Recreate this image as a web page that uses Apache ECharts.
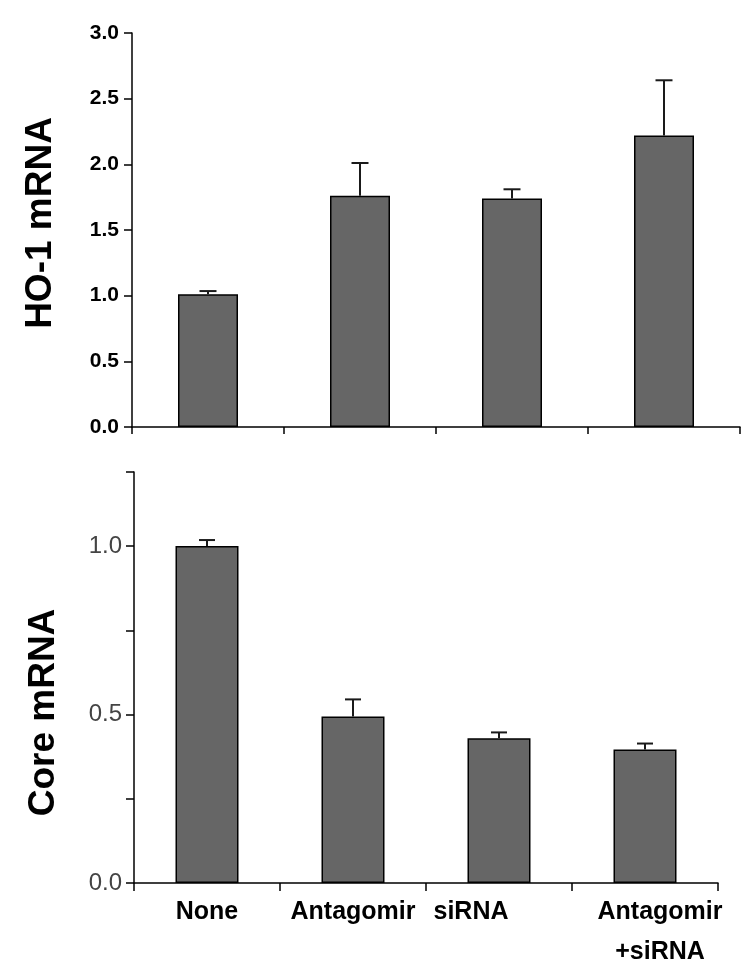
<!DOCTYPE html>
<html>
<head>
<meta charset="utf-8">
<script src="https://cdn.jsdelivr.net/npm/echarts@6/dist/echarts.min.js"></script>
<style>html,body{margin:0;padding:0;background:#fff}#c{width:746px;height:979px}</style>
</head>
<body>
<div id="c"></div>
<script>
var categories = ['None', 'Antagomir', 'siRNA', 'Antagomir\n+siRNA'];
var ho1Mean = [1.01, 1.76, 1.74, 2.22];
var ho1Err = [0.025, 0.25, 0.07, 0.42];
var coreMean = [1.0, 0.494, 0.43, 0.396];
var coreErr = [0.018, 0.051, 0.017, 0.018];
var topTicks = [0, 0.5, 1.0, 1.5, 2.0, 2.5, 3.0];
var coreTicks = [0, 0.25, 0.5, 0.75, 1.0, 1.22];
var coreTickLabels = [0, 0.5, 1.0];

var FONT = 'Arial, "Liberation Sans", Helvetica, sans-serif';
var chart = echarts.init(document.getElementById('c'), null, {renderer: 'canvas'});

function errRender(capHalf) {
  return function (params, api) {
    var i = api.value(0), m = api.value(1), e = api.value(2);
    var p0 = api.coord([i, m]);
    var p1 = api.coord([i, m + e]);
    var st = {stroke: '#1a1a1a', lineWidth: 2};
    return {
      type: 'group',
      children: [
        {type: 'line', shape: {x1: p0[0], y1: p0[1], x2: p1[0], y2: p1[1]}, style: st},
        {type: 'line', shape: {x1: p1[0] - capHalf, y1: p1[1], x2: p1[0] + capHalf, y2: p1[1]}, style: st}
      ]
    };
  };
}

var axisLineStyle = {show: true, lineStyle: {color: '#000', width: 1.5}};

var option = {
  animation: false,
  backgroundColor: '#fff',
  grid: [
    {left: 132, right: 6, top: 33, bottom: 552, outerBoundsMode: 'none', containLabel: false},
    {left: 134, right: 28, top: 472, bottom: 96, outerBoundsMode: 'none', containLabel: false}
  ],
  xAxis: [
    {
      type: 'category', gridIndex: 0, data: categories,
      axisLine: axisLineStyle,
      axisTick: {show: true, alignWithLabel: false, length: 7, lineStyle: {color: '#000', width: 1.5}},
      axisLabel: {show: false},
      splitLine: {show: false}
    },
    {
      type: 'category', gridIndex: 1,
      data: [
        {value: categories[0]},
        {value: categories[1]},
        {value: categories[2], textStyle: {padding: [0, 56, 0, 0]}},
        {value: categories[3], textStyle: {padding: [0, 0, 0, 30]}}
      ],
      axisLine: axisLineStyle,
      axisTick: {show: true, alignWithLabel: false, length: 8, lineStyle: {color: '#000', width: 1.5}},
      axisLabel: {show: true, interval: 0, margin: 9, color: '#000', fontFamily: FONT, fontWeight: 'bold', fontSize: 25, lineHeight: 40},
      splitLine: {show: false}
    }
  ],
  yAxis: [
    {
      type: 'value', gridIndex: 0, min: 0, max: 3.0, interval: 0.5,
      name: 'HO-1 mRNA', nameLocation: 'middle', nameRotate: 90, nameGap: 73,
      nameTextStyle: {color: '#000', fontFamily: FONT, fontWeight: 'bold', fontSize: 37, padding: [0, 0, 0, 14]},
      axisLine: axisLineStyle,
      axisTick: {show: true, length: 8, lineStyle: {color: '#000', width: 1.5}},
      axisLabel: {color: '#000', fontFamily: FONT, fontWeight: 'bold', fontSize: 21, margin: 13,
        formatter: function (v) { return v.toFixed(1); }},
      splitLine: {show: false}
    },
    {
      type: 'value', gridIndex: 1, min: 0, max: 1.22,
      name: 'Core mRNA', nameLocation: 'middle', nameRotate: 90, nameGap: 72,
      nameTextStyle: {color: '#000', fontFamily: FONT, fontWeight: 'bold', fontSize: 37, padding: [0, 70, 0, 0]},
      axisLine: axisLineStyle,
      axisTick: {show: true, length: 8, customValues: coreTicks, lineStyle: {color: '#000', width: 1.5}},
      axisLabel: {color: '#444', fontFamily: FONT, fontSize: 24, margin: 12, customValues: coreTickLabels,
        formatter: function (v) { return v.toFixed(1); }},
      splitLine: {show: false}
    }
  ],
  series: [
    {
      type: 'bar', xAxisIndex: 0, yAxisIndex: 0, data: ho1Mean, barWidth: 60,
      itemStyle: {color: '#666666', borderColor: '#000', borderWidth: 1.5}
    },
    {
      type: 'custom', xAxisIndex: 0, yAxisIndex: 0, z: 5,
      data: ho1Mean.map(function (m, i) { return [i, m, ho1Err[i]]; }),
      renderItem: errRender(8.5)
    },
    {
      type: 'bar', xAxisIndex: 1, yAxisIndex: 1, data: coreMean, barWidth: 63,
      itemStyle: {color: '#666666', borderColor: '#000', borderWidth: 1.5}
    },
    {
      type: 'custom', xAxisIndex: 1, yAxisIndex: 1, z: 5,
      data: coreMean.map(function (m, i) { return [i, m, coreErr[i]]; }),
      renderItem: errRender(8)
    }
  ]
};
chart.setOption(option);
</script>
</body>
</html>
